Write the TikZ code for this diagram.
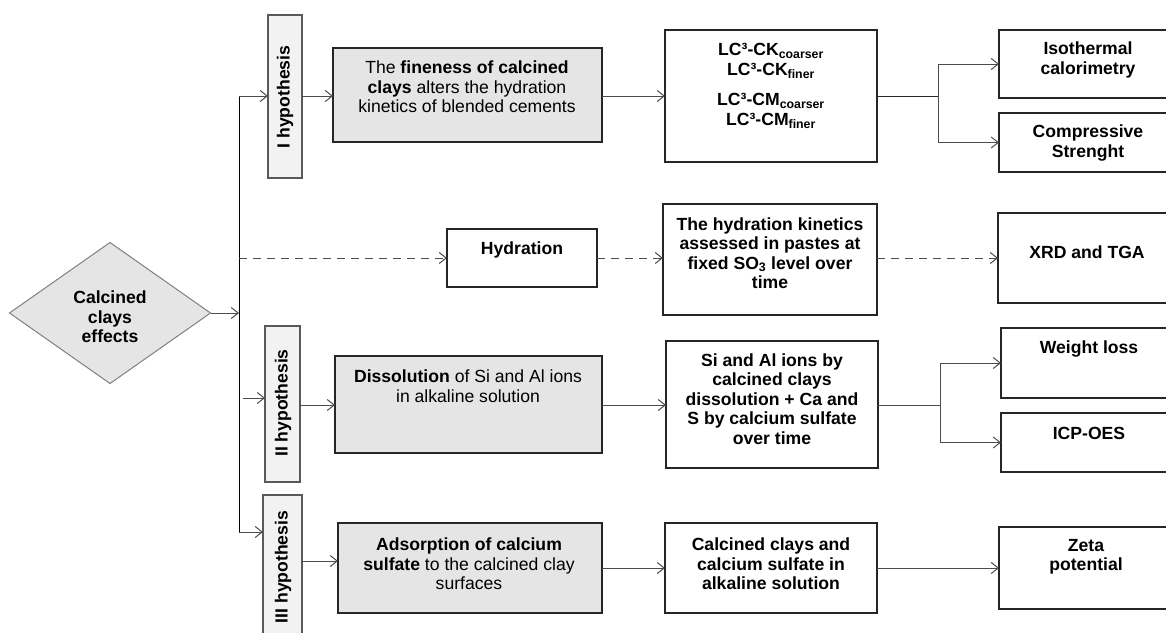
\documentclass[tikz,border=0pt]{standalone}
\usepackage{fontspec}
\setmainfont{Liberation Sans}
\usetikzlibrary{shapes.geometric,arrows.meta}
\begin{document}
\begin{tikzpicture}[x=1pt,y=-1pt,
  every node/.style={inner sep=0pt, outer sep=0pt},
  font=\fontsize{17.6}{19.5}\selectfont,
  gbox/.style={draw=black!85, line width=1.1pt, fill=black!10, rectangle, anchor=north west},
  wbox/.style={draw=black!85, line width=1.1pt, fill=white, rectangle, anchor=north west},
  hbox/.style={draw=black!65, line width=1.1pt, fill=black!5, rectangle, anchor=north west},
  txt/.style={align=center},
  btxt/.style={align=center, font=\fontsize{17.6}{19.5}\selectfont\bfseries},
  arr/.style={draw=black!70, line width=1pt, -{Straight Barb[length=7pt,width=11pt]}},
  ln/.style={draw=black!85, line width=1pt},
  dsh/.style={arr, dash pattern=on 8pt off 6pt},
]
\useasboundingbox (0,0) rectangle (1166,632);

% diamond
\node[diamond, draw=black!50, line width=1pt, fill=black!10, minimum width=201pt, minimum height=141pt] (dia) at (110,313) {};
\node[btxt] (tdia) at (110,317) {Calcined\\clays\\effects};

% row I
\node[hbox, minimum width=34pt, minimum height=163pt] (ihyp) at (268,15) {};
\node[btxt, rotate=90] (tI) at (285,97) {I hypothesis};
\node[gbox, minimum width=269pt, minimum height=94pt] (fin) at (333,48) {};
\node[txt] (tfin) at (467,87) {The \textbf{fineness of calcined}\\\textbf{clays} alters the hydration\\kinetics of blended cements};
\node[wbox, minimum width=212pt, minimum height=132pt] (lc) at (665,30) {};
\node[btxt] (tlc) at (771,86) {LC³-CK\textsubscript{coarser}\\LC³-CK\textsubscript{finer}\\[11pt]LC³-CM\textsubscript{coarser}\\LC³-CM\textsubscript{finer}};
\node[wbox, minimum width=180pt, minimum height=68pt] (iso) at (999,30) {};
\node[btxt] (tiso) at (1088,60) {Isothermal\\calorimetry};
\node[wbox, minimum width=180pt, minimum height=59pt] (comp) at (999,113) {};
\node[btxt] (tcomp) at (1088,143) {Compressive\\Strenght};

% hydration row
\node[wbox, minimum width=150pt, minimum height=58pt] (hyd) at (447,229) {};
\node[btxt] (thyd) at (522,250) {Hydration};
\node[wbox, minimum width=214pt, minimum height=111pt] (hk) at (663,204) {};
\node[btxt] (thk) at (770,253) {The hydration kinetics\\assessed in pastes at\\fixed SO\textsubscript{3} level over\\time};
\node[wbox, minimum width=181pt, minimum height=90pt] (xrd) at (998,213) {};
\node[btxt] (txrd) at (1087,252) {XRD and TGA};

% row II
\node[hbox, minimum width=35pt, minimum height=156pt] (iihyp) at (265,326) {};
\node[btxt, rotate=90] (tII) at (283,403) {II hypothesis};
\node[gbox, minimum width=267pt, minimum height=97pt] (diss) at (335,356) {};
\node[txt] (tdiss) at (468,386) {\textbf{Dissolution} of Si and Al ions\\in alkaline solution};
\node[wbox, minimum width=212pt, minimum height=127pt] (si) at (666,341) {};
\node[btxt] (tsi) at (772,399) {Si and Al ions by\\calcined clays\\dissolution + Ca and\\S by calcium sulfate\\over time};
\node[wbox, minimum width=178pt, minimum height=70pt] (wl) at (1001,328) {};
\node[btxt] (twl) at (1089,349) {Weight loss};
\node[wbox, minimum width=178pt, minimum height=59pt] (icp) at (1001,413) {};
\node[btxt] (ticp) at (1089,433) {ICP-OES};

% row III
\node[hbox, minimum width=39pt, minimum height=150pt] (iiihyp) at (263,495) {};
\node[btxt, rotate=90] (tIII) at (283,567) {III hypothesis};
\node[gbox, minimum width=264pt, minimum height=90pt] (ads) at (338,523) {};
\node[txt] (tads) at (469,564) {\textbf{Adsorption of calcium}\\\textbf{sulfate} to the calcined clay\\surfaces};
\node[wbox, minimum width=212pt, minimum height=90pt] (cc) at (665,523) {};
\node[btxt] (tcc) at (771,564) {Calcined clays and\\calcium sulfate in\\alkaline solution};
\node[wbox, minimum width=180pt, minimum height=82pt] (zeta) at (999,527) {};
\node[btxt] (tzeta) at (1086,557) {Zeta\\potential};

% connectors
\coordinate (vtop) at (239,96);
\coordinate (vbot) at (239,532);
\coordinate (v2) at (243,398);
\coordinate (vd) at (239,258);
\coordinate (y2) at (0,405);
\coordinate (y3) at (0,561);
\coordinate (j1) at (938,96);
\coordinate (j2) at (940,405);

\draw[ln, draw=black] (vtop) -- (vbot);
\draw[arr] (dia.east) -- (dia.east -| vtop);
\draw[arr] (vtop) -- (vtop -| ihyp.west);
\draw[arr] (v2) -- (v2 -| iihyp.west);
\draw[arr] (vbot) -- (vbot -| iiihyp.west);

\draw[dsh] (vd) -- (vd -| hyd.west);
\draw[dsh] (vd -| hyd.east) -- (vd -| hk.west);
\draw[dsh] (vd -| hk.east) -- (vd -| xrd.west);

\draw[arr] (vtop -| ihyp.east) -- (vtop -| fin.west);
\draw[arr] (vtop -| fin.east) -- (vtop -| lc.west);
\draw[ln] (vtop -| lc.east) -- (j1);
\draw[arr] (j1) |- (iso.west);
\draw[arr] (j1) |- (comp.west);

\draw[arr] (y2 -| iihyp.east) -- (y2 -| diss.west);
\draw[arr] (y2 -| diss.east) -- (y2 -| si.west);
\draw[ln, draw=black!70] (y2 -| si.east) -- (j2);
\draw[arr] (j2) |- (wl.west);
\draw[arr] (j2) |- (icp.west);

\draw[arr] (y3 -| iiihyp.east) -- (y3 -| ads.west);
\draw[arr] (ads.east) -- (ads.east -| cc.west);
\draw[arr] (cc.east) -- (cc.east -| zeta.west);
\end{tikzpicture}
\end{document}
